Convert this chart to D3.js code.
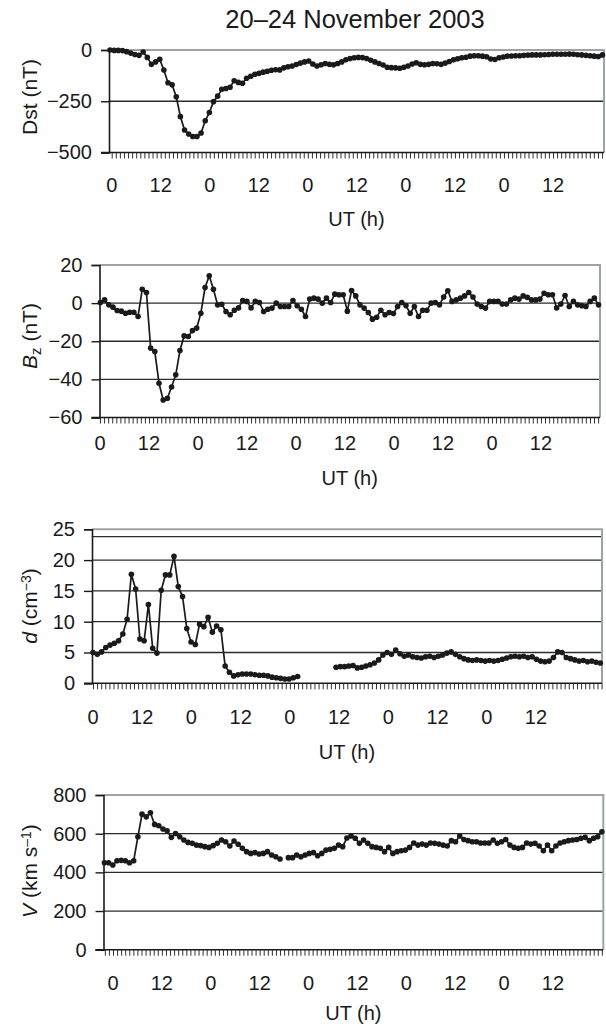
<!DOCTYPE html>
<html><head><meta charset="utf-8">
<script src="https://cdn.jsdelivr.net/npm/d3@7"></script>
<style>
body{margin:0;background:#fff}
svg{display:block}
text{font-family:"Liberation Sans",Arial,Helvetica,sans-serif;fill:#1a1a1a}
</style>
</head><body>
<svg id="c" width="606" height="1030"></svg>
<script>
// ---------- data ----------
const hourLabels = ["0","12","0","12","0","12","0","12","0","12"];
const labelHours = [0,12,24,36,48,60,72,84,96,108];

const dst = [0,-2,-2,-3,-8,-15,-22,-26,-10,-36,-70,-58,-45,-98,-160,-170,-228,-325,-390,-410,
 -422,-422,-405,-345,-305,-252,-225,-192,-188,-182,-150,-158,-162,-138,-128,-118,-114,-108,-104,-99,
 -96,-97,-87,-82,-78,-71,-64,-58,-54,-68,-78,-72,-66,-70,-72,-66,-58,-48,-42,-38,
 -36,-37,-42,-50,-58,-66,-73,-84,-86,-87,-89,-84,-78,-68,-62,-70,-72,-70,-66,-67,
 -70,-64,-56,-48,-43,-38,-35,-30,-28,-28,-30,-33,-44,-46,-38,-34,-30,-29,-28,-28,
 -26,-25,-24,-24,-24,-23,-22,-21,-21,-21,-21,-20,-21,-23,-24,-26,-28,-30,-32,-24];

const bz = [0.3,1.7,-0.9,-2.1,-3.9,-4.2,-5.3,-4.8,-4.8,-7,7.3,5.6,-23.6,-25.4,-42,-50.8,-49.9,-44,-37.6,-24.9,
 -17.2,-17.5,-14.4,-13.1,-5.3,8.2,14.3,7.3,-0.9,-0.6,-4.4,-6.1,-3.7,-2.5,1.4,0.9,-2.5,0.9,0.3,-4.4,
 -3.2,-2.6,0,-1.8,-1.8,-1.8,1.4,-1.4,-3.2,-7,2.1,2.6,2.1,0,2.6,0.3,4.7,4.4,4.4,-4.2,
 6.6,3.8,-0.9,-2.6,-4.9,-8.4,-7.4,-3.7,-6.1,-4.9,-5.5,-1.8,0.3,-1.3,-5.3,-1.8,-7,-3.7,-3.7,0,
 0.3,-0.9,3.2,6.5,0.9,1.7,2.6,3.8,5.6,3.2,-0.5,-1.8,-2.6,0.9,0.9,0.9,-0.5,-0.5,1.7,2.6,
 2.1,3.8,3,1.7,1.7,2.1,5.2,4.4,4.4,-2.5,-0.5,4,-1.8,0.9,-0.9,-1.4,-1.8,0.9,2.6,-0.9];

const dens = [5.0,4.7,5.1,5.8,6.2,6.5,6.9,8.0,10.4,17.7,15.3,7.2,6.9,12.8,5.7,4.9,15.1,17.6,17.6,20.6,
 15.7,14.1,8.9,6.7,6.3,9.6,9.2,10.7,8.3,9.3,8.7,2.8,1.8,1.2,1.4,1.5,1.5,1.5,1.4,1.3,
 1.3,1.2,1.0,0.9,0.8,0.7,0.7,0.9,1.1,null,null,null,null,null,null,null,null,2.6,2.7,2.7,
 2.8,2.9,2.5,2.6,2.8,3.0,3.3,3.8,4.6,5.0,4.7,5.4,4.8,4.4,4.6,4.3,4.2,4.1,4.3,4.4,
 4.2,4.4,4.6,4.9,5.1,4.7,4.3,4.0,3.8,3.7,3.8,3.7,3.6,3.7,3.6,3.7,3.9,4.1,4.3,4.4,
 4.3,4.4,4.2,4.3,3.9,3.6,3.5,3.6,4.2,5.1,5.0,4.2,4.0,3.8,3.6,3.7,3.5,3.6,3.4,3.3];

const vel = [450,450,438,460,462,460,450,460,584,701,687,708,648,641,624,615,581,601,584,567,
 555,550,541,538,533,529,538,550,567,558,536,562,545,524,507,498,502,495,498,507,
 490,481,469,null,476,476,490,481,490,498,502,486,498,515,519,524,541,533,578,588,
 576,550,567,550,533,529,524,507,529,498,507,512,515,529,552,541,546,541,552,550,
 546,541,536,564,558,588,570,564,558,558,552,552,552,567,550,558,570,541,529,524,
 529,552,546,550,536,512,541,512,536,552,558,564,567,570,576,581,564,576,584,610];

// time (UT hours from 20 Nov 00:00) of first and last sample of each series
const dstSpan = [-0.4, 120.1];
const bzSpan  = [0.1, 122.1];
const densSpan = [0, 123.7];
const velSpan = [-2.1, 120.0];

const dstTicks = [0,-250,-500];
const bzTicks = [20,0,-20,-40,-60];
const densTicks = [0,5,10,15,20,25];
const velTicks = [0,200,400,600,800];

// ---------- layout ----------
const svg = d3.select("#c");
const INK = "#1a1a1a";
const BORDER = "#9ea3a8";

svg.append("text").attr("x",355).attr("y",28).attr("text-anchor","middle")
  .style("font-size","25.5px").text("20\u201324 November 2003");

const panels = [
  {data:dst, span:dstSpan, hours:[-0.66,120.48], domain:[-500,0], ticks:dstTicks, grid:[-250],
   box:{l:109,r:604,t:50,b:152.5}, lblY:192, utY:226, ttlX:37, ttlY:97,
   title:[{t:"Dst (nT)"}]},
  {data:bz, span:bzSpan, hours:[-0.12,122.46], domain:[-60,20], ticks:bzTicks, grid:[0,-20,-40],
   box:{l:99.5,r:600,t:265,b:417.5}, lblY:450, utY:485, ttlX:37, ttlY:336,
   title:[{t:"B",i:true},{t:"z",sub:true},{t:" (nT)"}]},
  {data:dens, span:densSpan, hours:[-0.24,124.1], domain:[0,25], ticks:densTicks, grid:[5,10,15,20,23.8],
   box:{l:92,r:602,t:529.3,b:683.3}, lblY:724, utY:759, ttlX:37, ttlY:606,
   title:[{t:"d",i:true},{t:" (cm"},{t:"\u22123",sup:true},{t:")"}]},
  {data:vel, span:velSpan, hours:[-2.33,120.35], domain:[0,800], ticks:velTicks, grid:[200,400,600],
   box:{l:103.5,r:603.3,t:795,b:949.7}, lblY:990, utY:1020, ttlX:37, ttlY:871,
   title:[{t:"V",i:true},{t:" (km s"},{t:"\u20131",sup:true},{t:")"}]}
];

panels.forEach(p => {
  const {l,r,t,b} = p.box;
  const n = p.data.length;
  const x = d3.scaleLinear().domain(p.hours).range([l,r]);
  const tIdx = d3.scaleLinear().domain([0,n-1]).range(p.span);  // sample index -> UT hour
  const y = d3.scaleLinear().domain(p.domain).range([b,t]);
  const g = svg.append("g");

  g.selectAll(".grid").data(p.grid).join("line")
    .attr("x1",l).attr("x2",r).attr("y1",d=>y(d)).attr("y2",d=>y(d))
    .attr("stroke","#2b2b2b").attr("stroke-width",1.3);
  g.append("line").attr("x1",l).attr("x2",r+1).attr("y1",t).attr("y2",t)
    .attr("stroke",BORDER).attr("stroke-width",2);
  g.append("line").attr("x1",r).attr("x2",r).attr("y1",t).attr("y2",b)
    .attr("stroke",BORDER).attr("stroke-width",2);

  const ya = g.append("g").attr("transform",`translate(${l},0)`)
    .call(d3.axisLeft(y).tickValues(p.ticks).tickSize(8).tickPadding(9)
      .tickFormat(d => d < 0 ? "\u2212" + Math.abs(d) : String(d)));
  ya.select(".domain").attr("stroke",INK).attr("stroke-width",1.6);
  ya.selectAll(".tick line").attr("stroke",INK).attr("stroke-width",1.4);
  ya.selectAll(".tick text").style("font-size","20px").attr("fill",INK)
    .style("font-family",'"Liberation Sans",Arial,sans-serif');

  const hourTicks = d3.range(Math.ceil(p.hours[0]), Math.floor(p.hours[1]) + 1);
  const xa = g.append("g").attr("transform",`translate(0,${b})`)
    .call(d3.axisBottom(x).tickValues(hourTicks).tickSize(6).tickSizeOuter(0).tickFormat(""));
  xa.select(".domain").remove();
  xa.selectAll(".tick line").attr("stroke",INK).attr("stroke-width",0.9);
  g.append("line").attr("x1",l-8).attr("x2",r).attr("y1",b).attr("y2",b)
    .attr("stroke",INK).attr("stroke-width",1.6);

  g.selectAll(".hl").data(labelHours).join("text")
    .attr("x",d=>x(d)).attr("y",p.lblY).attr("text-anchor","middle")
    .style("font-size","20px").text((d,i)=>hourLabels[i]);
  g.append("text").attr("x",(l+r)/2).attr("y",p.utY).attr("text-anchor","middle")
    .style("font-size","20px").text("UT (h)");

  const tt = g.append("text").attr("transform",`translate(${p.ttlX},${p.ttlY}) rotate(-90)`)
    .attr("text-anchor","middle").style("font-size","21px");
  p.title.forEach(s => {
    const ts = tt.append("tspan").text(s.t);
    if (s.i) ts.style("font-style","italic");
    if (s.sub) ts.attr("baseline-shift","-25%").style("font-size","15px");
    if (s.sup) ts.attr("baseline-shift","45%").style("font-size","14px");
  });

  const line = d3.line().defined(d=>d!=null).x((d,i)=>x(tIdx(i))).y(d=>y(d));
  g.append("path").datum(p.data).attr("d",line)
    .attr("fill","none").attr("stroke",INK).attr("stroke-width",1.7).attr("stroke-linejoin","round");
  g.selectAll(".pt").data(p.data.map((v,i)=>({v,i})).filter(d=>d.v!=null)).join("circle")
    .attr("cx",d=>x(tIdx(d.i))).attr("cy",d=>y(d.v)).attr("r",2.8).attr("fill",INK);
});
</script>
</body></html>
